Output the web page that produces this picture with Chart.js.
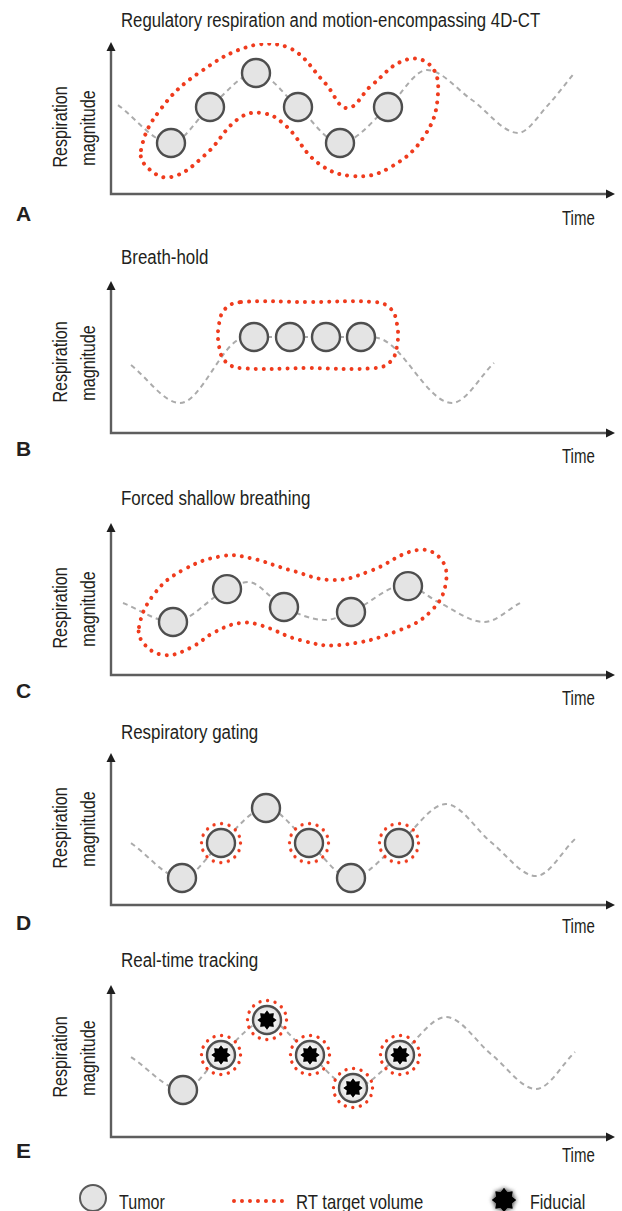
<!DOCTYPE html>
<html><head><meta charset="utf-8">
<script src="https://cdn.jsdelivr.net/npm/chart.js@4.4.1/dist/chart.umd.min.js"></script>
<style>
html,body{margin:0;padding:0;background:#fff;}
body{width:622px;height:1211px;position:relative;overflow:hidden;font-family:"Liberation Sans Narrow","Liberation Sans","Roboto",sans-serif;color:#231f20;}
.t{position:absolute;white-space:nowrap;line-height:1;font-size:20px;}
.b{font-weight:bold;font-size:21px;}
.lg{font-size:21px;}
canvas.p{position:absolute;left:100px;}
</style></head>
<body>
<script>
// ---------- DATA (time units 0-10, magnitude units 0-10) ----------
const panelTitles = ["Regulatory respiration and motion-encompassing 4D-CT","Breath-hold","Forced shallow breathing","Respiratory gating","Real-time tracking"];
const panelLetters = ["A","B","C","D","E"];
const xAxisLabel = "Time";
const yAxisLabel = ["Respiration","magnitude"];
const legendLabels = ["Tumor","RT target volume","Fiducial"];

// A: regulatory respiration
const breathA = [[0.12,5.93],[1.18,3.4],[1.96,5.8],[2.88,8.07],[3.72,5.8],[4.56,3.4],[5.52,5.8],[6.3,8.27],[7.2,6.27],[8.12,4.07],[8.72,5.93],[9.26,8.13]];
const tumorA  = [[1.18,3.4],[1.96,5.8],[2.88,8.07],[3.72,5.8],[4.56,3.4],[5.52,5.8]];
const targetA = [[0.58,2.93],[0.96,5.6],[1.76,8.13],[2.84,9.93],[3.56,9.73],[4.26,7.4],[4.7,5.73],[5.2,7.27],[5.86,8.93],[6.36,8.6],[6.52,6.73],[6.26,3.93],[5.54,1.73],[4.82,1.2],[4.12,2.07],[3.46,4.6],[3.0,5.4],[2.52,5.0],[1.86,2.6],[1.18,1.13],[0.72,1.73]];

// B: breath-hold
const breathB = [[0.38,4.53],[1.36,2.0],[2.6,6.33],[2.84,6.4],[4.98,6.4],[5.32,6.33],[6.8,2.0],[7.64,4.67]];
const tumorB  = [[2.84,6.4],[3.56,6.4],[4.28,6.4],[4.98,6.4]];
const targetB = [[2.58,8.73],[3.9,8.73],[5.26,8.73],[5.57,8.3],[5.7,7.26],[5.7,5.8],[5.57,4.76],[5.26,4.33],[3.9,4.33],[2.58,4.33],[2.27,4.76],[2.14,5.8],[2.14,7.26],[2.27,8.3]];

// C: forced shallow breathing
const breathC = [[0.22,4.8],[1.22,3.53],[2.3,5.73],[2.72,6.2],[3.44,4.53],[4.26,3.67],[4.78,4.2],[5.86,6.0],[6.56,4.8],[7.44,3.53],[8.16,4.8]];
const tumorC  = [[1.22,3.53],[2.3,5.73],[3.44,4.53],[4.78,4.2],[5.92,5.93]];
const targetC = [[0.54,3.2],[0.86,5.47],[1.42,7.0],[2.2,7.93],[2.76,7.8],[3.56,7.0],[4.42,6.33],[5.16,6.93],[6.1,8.33],[6.56,7.8],[6.68,6.2],[6.4,4.33],[5.76,3.0],[4.56,2.0],[3.76,2.33],[2.96,3.33],[2.56,3.47],[2.06,2.87],[1.56,1.8],[1.06,1.33],[0.66,2.0]];

// D: respiratory gating
const breathD = [[0.38,4.13],[1.4,1.8],[2.18,4.13],[3.08,6.47],[3.94,4.13],[4.78,1.8],[5.74,4.13],[6.68,6.73],[7.6,4.13],[8.48,1.93],[9.26,4.4]];
const tumorD  = [[1.4,1.8],[2.18,4.13],[3.08,6.47],[3.94,4.13],[4.78,1.8],[5.74,4.13]];
const gateD   = [[2.18,4.13],[3.94,4.13],[5.74,4.13]];

// E: real-time tracking
const breathE = [[0.38,5.33],[1.42,3.13],[2.18,5.47],[3.1,7.8],[3.96,5.47],[4.82,3.27],[5.76,5.47],[6.68,8.0],[7.6,5.47],[8.48,3.2],[9.26,5.67]];
const tumorE  = [[1.42,3.13],[2.18,5.47],[3.1,7.8],[3.96,5.47],[4.82,3.27],[5.76,5.47]];
const trackE  = [[2.18,5.47],[3.1,7.8],[3.96,5.47],[4.82,3.27],[5.76,5.47]];

// ---------- LAYOUT ----------
const panels = [
  {breath:breathA, tumor:tumorA, target:targetA, axisY:194, titleY:20,  letterY:213, timeY:218, labelY:127},
  {breath:breathB, tumor:tumorB, target:targetB, axisY:433, titleY:257, letterY:448, timeY:456, labelY:362},
  {breath:breathC, tumor:tumorC, target:targetC, axisY:675, titleY:498, letterY:690, timeY:698, labelY:608},
  {breath:breathD, tumor:tumorD, rings:gateD,    axisY:905, titleY:732, letterY:922, timeY:926, labelY:828},
  {breath:breathE, tumor:tumorE, rings:trackE, stars:trackE, axisY:1137, titleY:960, letterY:1150, timeY:1155, labelY:1057}
];
const titleW = [419,87,189,137,137];
const RED = '#ef3b1d';

function text(str, x, cy, w, cls){
  const d = document.createElement('div');
  d.className = 't ' + (cls||'');
  d.textContent = str;
  document.body.appendChild(d);
  const s = w / d.offsetWidth;
  d.style.left = x + 'px'; d.style.top = cy + 'px';
  d.style.transformOrigin = 'left center';
  d.style.transform = 'translateY(-50%) scaleX(' + s + ')';
  return d;
}
function vtext(str, cx, cy, w){
  const d = document.createElement('div');
  d.className = 't';
  d.textContent = str;
  document.body.appendChild(d);
  const s = w / d.offsetWidth;
  d.style.left = cx + 'px'; d.style.top = cy + 'px';
  d.style.transform = 'translate(-50%,-50%) rotate(-90deg) scaleX(' + s + ')';
}
function makeStar(R, blur, glow, size){
  const c = document.createElement('canvas'); c.width = c.height = size;
  const x = c.getContext('2d'); x.translate(size/2, size/2);
  x.beginPath();
  for (let i = 0; i < 16; i++){ const r = i%2 ? R*0.7 : R; const a = -Math.PI/2 + i*Math.PI/8; x.lineTo(r*Math.cos(a), r*Math.sin(a)); }
  x.closePath();
  if (blur){ x.shadowColor = glow; x.shadowBlur = blur; }
  x.fillStyle = '#000'; x.fill(); x.fill();
  return c;
}
function makeRing(R, size){
  const c = document.createElement('canvas'); c.width = c.height = size;
  const x = c.getContext('2d');
  x.strokeStyle = RED; x.lineWidth = 3.4; x.lineCap = 'round';
  const n = 16, circ = 2*Math.PI*R;
  x.setLineDash([0.01, circ/n - 0.01]);
  x.beginPath(); x.arc(size/2, size/2, R, 0, 2*Math.PI); x.stroke();
  return c;
}
const ringImg = makeRing(19.5, 46);
const starImg = makeStar(9.5, 5, '#ffffff', 32);

const axesPlugin = {
  id:'axes',
  beforeDatasetsDraw(chart){
    const {ctx, chartArea:a} = chart;
    ctx.save();
    ctx.strokeStyle = '#5e5e5e'; ctx.lineWidth = 2.4;
    ctx.beginPath(); ctx.moveTo(a.left-1, a.top+6); ctx.lineTo(a.left-1, a.bottom); ctx.lineTo(a.right-4, a.bottom); ctx.stroke();
    ctx.fillStyle = '#1e1e1e';
    ctx.beginPath(); ctx.moveTo(a.left-1, a.top-1); ctx.lineTo(a.left-5.5, a.top+8); ctx.lineTo(a.left+3.5, a.top+8); ctx.closePath(); ctx.fill();
    ctx.beginPath(); ctx.moveTo(a.right+3, a.bottom); ctx.lineTo(a.right-6, a.bottom-4.5); ctx.lineTo(a.right-6, a.bottom+4.5); ctx.closePath(); ctx.fill();
    ctx.restore();
  }
};
const xy = arr => arr.map(p => ({x:p[0], y:p[1]}));
function closedLoop(arr){ const n = arr.length; return xy([arr[n-1], ...arr, arr[0], arr[1]]); }

panels.forEach((p, i) => {
  const cv = document.createElement('canvas');
  cv.className = 'p'; cv.width = 522; cv.height = 167;
  cv.style.top = (p.axisY - 151 - 10) + 'px';
  document.body.appendChild(cv);
  const ds = [];
  ds.push({data: xy(p.breath), showLine:true, borderColor:'#ababab', borderWidth:2, borderDash:[5,4], pointRadius:0, cubicInterpolationMode:'monotone', order:5});
  if (p.target){
    const data = closedLoop(p.target); const L = data.length;
    ds.push({data, showLine:true, borderColor:RED, borderWidth:4, borderDash:[0.01,8], borderCapStyle:'round', tension:0.42, pointRadius:0, order:4,
      segment:{borderColor: c => (c.p0DataIndex === 0 || c.p1DataIndex === L-1) ? 'rgba(0,0,0,0)' : RED}});
  }
  if (p.rings) ds.push({data: xy(p.rings), pointStyle: ringImg, pointRadius:22, order:3});
  ds.push({data: xy(p.tumor), pointStyle:'circle', pointRadius:14, backgroundColor:'#e4e4e4', borderColor:'#4e4e4e', borderWidth:2.4,
           pointBackgroundColor:'#e4e4e4', pointBorderColor:'#4e4e4e', pointBorderWidth:2.4, order:2});
  if (p.stars) ds.push({data: xy(p.stars), pointStyle: starImg, pointRadius:10, order:1});
  new Chart(cv, {type:'scatter', data:{datasets:ds}, plugins:[axesPlugin],
    options:{responsive:false, animation:false, events:[], devicePixelRatio:1,
      layout:{autoPadding:false, padding:{left:12, right:10, top:10, bottom:6}},
      scales:{x:{type:'linear', min:0, max:10, display:false}, y:{type:'linear', min:0, max:10.07, display:false}},
      plugins:{legend:{display:false}, tooltip:{enabled:false}}}});

  text(panelTitles[i], 121, p.titleY, titleW[i]);
  text(panelLetters[i], 16, p.letterY, 15, 'b');
  text(xAxisLabel, 562, p.timeY, 33);
  vtext(yAxisLabel[0], 60, p.labelY, 81);
  vtext(yAxisLabel[1], 88, p.labelY + 1, 75);
});

// ---------- LEGEND ----------
(function(){
  const c = document.createElement('div');
  Object.assign(c.style, {position:'absolute', left:'79px', top:'1184px', width:'24px', height:'24px', borderRadius:'50%', border:'2.5px solid #5a5a5a', background:'#e4e4e4'});
  document.body.appendChild(c);
  text(legendLabels[0], 119, 1201, 46, 'lg');
  const l = document.createElement('div');
  Object.assign(l.style, {position:'absolute', left:'232px', top:'1199px', width:'52px', height:'0', borderTop:'4px dotted ' + RED});
  document.body.appendChild(l);
  text(legendLabels[1], 296, 1201, 127, 'lg');
  const s = makeStar(12, 5, 'rgba(0,0,0,0.6)', 36);
  Object.assign(s.style, {position:'absolute', left:(504-18)+'px', top:(1200-18)+'px'});
  document.body.appendChild(s);
  text(legendLabels[2], 530, 1201, 55, 'lg');
})();
</script>
</body></html>
